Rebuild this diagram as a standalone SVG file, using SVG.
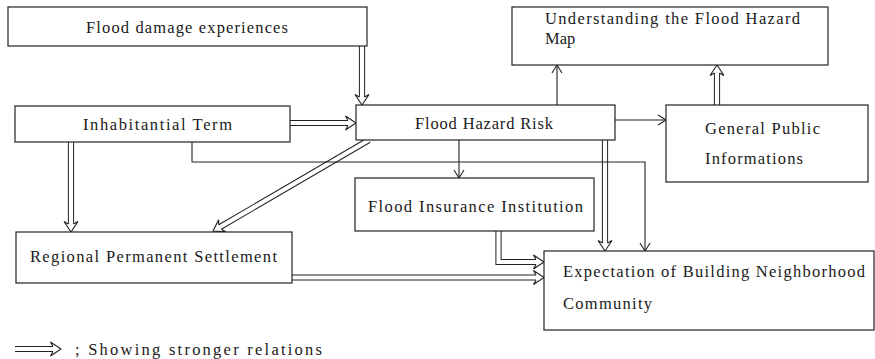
<svg xmlns="http://www.w3.org/2000/svg" width="875" height="359" viewBox="0 0 875 359">
  <style>
    .box { fill: #fff; stroke: #222; stroke-width: 1.2; }
    .t { font-family: 'Liberation Serif', 'DejaVu Serif', serif; font-size: 16.5px; fill: #1a1a1a; }
    .dbo { fill: none; stroke: #222; stroke-width: 6.2; stroke-linejoin: miter; }
    .dbi { fill: none; stroke: #fff; stroke-width: 4.2; stroke-linejoin: miter; }
    .sl { fill: none; stroke: #222; stroke-width: 1.1; }
  </style>
  <defs>
    <marker id="hollow" markerUnits="userSpaceOnUse" orient="auto" refX="0" refY="0" markerWidth="20" markerHeight="20" overflow="visible">
      <path d="M0,-2.6 L-2.5,-7 L8,0 L-2.5,7 L0,2.6" fill="#fff" stroke="#222" stroke-width="1.1" stroke-linejoin="miter"/>
    </marker>
    <marker id="open" markerUnits="userSpaceOnUse" orient="auto" refX="0" refY="0" markerWidth="20" markerHeight="20" overflow="visible">
      <path d="M-8,-5 L0,0 L-8,5" fill="none" stroke="#222" stroke-width="1.1"/>
    </marker>
  </defs>

  <g id="connectors">
    <g id="c-fde-fhr"><path class="dbo" d="M362,46 V97"/><path class="dbi" d="M362,46 V97" marker-end="url(#hollow)"/></g>
    <g id="c-it-fhr"><path class="dbo" d="M290,123 H348"/><path class="dbi" d="M290,123 H348" marker-end="url(#hollow)"/></g>
    <g id="c-it-rps"><path class="dbo" d="M71,142 V224"/><path class="dbi" d="M71,142 V224" marker-end="url(#hollow)"/></g>
    <g id="c-fhr-rps"><path class="dbo" d="M369,140 L220,227"/><path class="dbi" d="M369,140 L220,227" marker-end="url(#hollow)"/></g>
    <g id="c-gpi-ufhm"><path class="dbo" d="M717,105 V73"/><path class="dbi" d="M717,105 V73" marker-end="url(#hollow)"/></g>
    <g id="c-fhr-ebnc"><path class="dbo" d="M605,140 V243"/><path class="dbi" d="M605,140 V243" marker-end="url(#hollow)"/></g>
    <g id="c-fii-ebnc"><path class="dbo" d="M498.5,231 V262 H536"/><path class="dbi" d="M498.5,231 V262 H536" marker-end="url(#hollow)"/></g>
    <g id="c-rps-ebnc"><path class="dbo" d="M292,277.5 H536"/><path class="dbi" d="M292,277.5 H536" marker-end="url(#hollow)"/></g>
    <path id="c-fhr-fii" class="sl" d="M459,140 V178" marker-end="url(#open)"/>
    <path id="c-fhr-ufhm" class="sl" d="M557,105 V65" marker-end="url(#open)"/>
    <path id="c-fhr-gpi" class="sl" d="M615,120 H666" marker-end="url(#open)"/>
    <path id="c-it-ebnc" class="sl" d="M192,142 V162 H645 V251" marker-end="url(#open)"/>
  </g>

  <g id="n-fde">
    <rect class="box" x="8" y="7" width="359" height="39"/>
    <text class="t" x="86" y="32.5" textLength="202" lengthAdjust="spacing">Flood damage experiences</text>
  </g>
  <g id="n-it">
    <rect class="box" x="15" y="106" width="275" height="36"/>
    <text class="t" x="83" y="130" textLength="149" lengthAdjust="spacing">Inhabitantial Term</text>
  </g>
  <g id="n-fhr">
    <rect class="box" x="356" y="105" width="259" height="35"/>
    <text class="t" x="415" y="129" textLength="138" lengthAdjust="spacing">Flood Hazard Risk</text>
  </g>
  <g id="n-ufhm">
    <rect class="box" x="512" y="7" width="316" height="58"/>
    <text class="t" x="545" y="24" textLength="255" lengthAdjust="spacing">Understanding the Flood Hazard</text>
    <text class="t" x="545" y="44">Map</text>
  </g>
  <g id="n-gpi">
    <rect class="box" x="666" y="105" width="202" height="77"/>
    <text class="t" x="705" y="134" textLength="115" lengthAdjust="spacing">General Public</text>
    <text class="t" x="705" y="164" textLength="98" lengthAdjust="spacing">Informations</text>
  </g>
  <g id="n-fii">
    <rect class="box" x="355" y="178" width="239" height="53"/>
    <text class="t" x="368" y="212" textLength="215" lengthAdjust="spacing">Flood Insurance Institution</text>
  </g>
  <g id="n-rps">
    <rect class="box" x="16" y="232" width="276" height="51"/>
    <text class="t" x="30" y="262" textLength="247" lengthAdjust="spacing">Regional Permanent Settlement</text>
  </g>
  <g id="n-ebnc">
    <rect class="box" x="544" y="251" width="330" height="79"/>
    <text class="t" x="563" y="277" textLength="302" lengthAdjust="spacing">Expectation of Building Neighborhood</text>
    <text class="t" x="563" y="309" textLength="89" lengthAdjust="spacing">Community</text>
  </g>

  <g id="legend">
    <path class="dbo" d="M15,349 H53"/><path class="dbi" d="M15,349 H53" marker-end="url(#hollow)"/>
    <text class="t" x="75" y="355" textLength="247" lengthAdjust="spacing">; Showing stronger relations</text>
  </g>
</svg>
